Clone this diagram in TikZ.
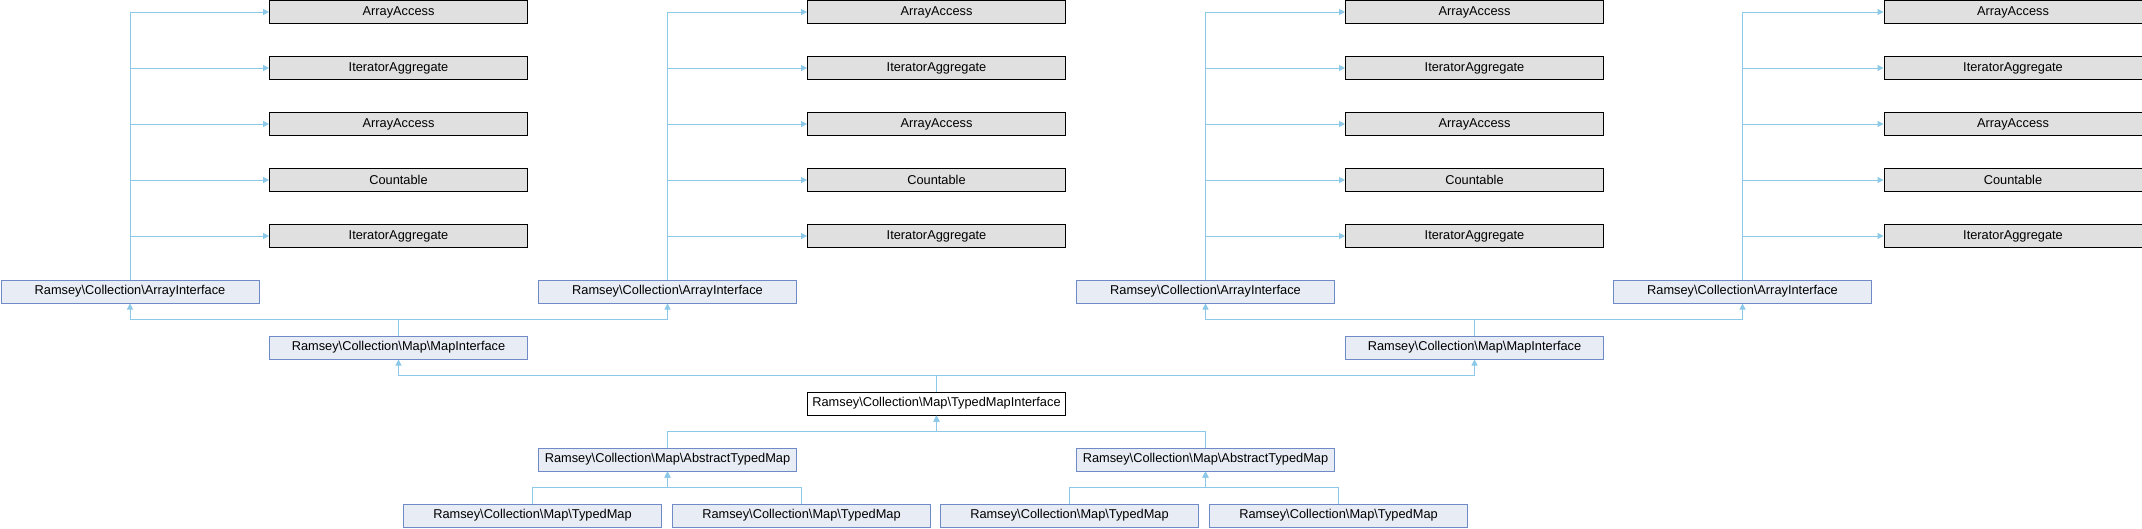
\documentclass[tikz,border=0pt]{standalone}
\usepackage{fontspec}
\setmainfont{Liberation Sans}
\usetikzlibrary{arrows.meta}
\definecolor{edgeblue}{RGB}{140,200,232}
\definecolor{clsfill}{RGB}{232,236,244}
\definecolor{clsdraw}{RGB}{112,138,200}
\definecolor{extfill}{RGB}{224,224,224}
\begin{document}
\begin{tikzpicture}[x=1pt,y=-1pt,
  font=\fontsize{12.8}{14}\selectfont,
  basebox/.style={minimum width=258pt, minimum height=23pt, inner sep=0pt, line width=1pt, anchor=west},
  ext/.style={basebox, draw=black, fill=extfill},
  cls/.style={basebox, draw=clsdraw, fill=clsfill},
  cur/.style={basebox, draw=black, fill=white},
  edge/.style={draw=edgeblue, line width=1pt, -{Triangle[length=6pt,width=6pt]}}]
\useasboundingbox (0,0) rectangle (2142,528);
\fill[white] (0,0) rectangle (2142,528);
% external interfaces
\foreach \c/\n in {269/a,807/b,1345/c,1883.5/d} {
  \node[ext] (\n1) at (\c,12) {ArrayAccess};
  \node[ext] (\n2) at (\c,68) {IteratorAggregate};
  \node[ext] (\n3) at (\c,124) {ArrayAccess};
  \node[ext] (\n4) at (\c,180) {Countable};
  \node[ext] (\n5) at (\c,236) {IteratorAggregate};
}
% array interfaces
\node[cls] (aia) at (0.5,291.5) {Ramsey\textbackslash Collection\textbackslash ArrayInterface};
\node[cls] (aib) at (538,291.5) {Ramsey\textbackslash Collection\textbackslash ArrayInterface};
\node[cls] (aic) at (1076,291.5) {Ramsey\textbackslash Collection\textbackslash ArrayInterface};
\node[cls] (aid) at (1613,291.5) {Ramsey\textbackslash Collection\textbackslash ArrayInterface};
\foreach \n in {a,b,c,d} {
  \foreach \k in {1,...,5} {
    \draw[edge] (ai\n.north) |- (\n\k.west);
  }
}
% map interfaces
\node[cls] (mi1) at (269,347.5) {Ramsey\textbackslash Collection\textbackslash Map\textbackslash MapInterface};
\node[cls] (mi2) at (1345,347.5) {Ramsey\textbackslash Collection\textbackslash Map\textbackslash MapInterface};
\node[cur] (tmi) at (807,403.5) {Ramsey\textbackslash Collection\textbackslash Map\textbackslash TypedMapInterface};
\node[cls] (at1) at (538,459.5) {Ramsey\textbackslash Collection\textbackslash Map\textbackslash AbstractTypedMap};
\node[cls] (at2) at (1076,459.5) {Ramsey\textbackslash Collection\textbackslash Map\textbackslash AbstractTypedMap};
\node[cls] (tm1) at (403,515.5) {Ramsey\textbackslash Collection\textbackslash Map\textbackslash TypedMap};
\node[cls] (tm2) at (672,515.5) {Ramsey\textbackslash Collection\textbackslash Map\textbackslash TypedMap};
\node[cls] (tm3) at (940,515.5) {Ramsey\textbackslash Collection\textbackslash Map\textbackslash TypedMap};
\node[cls] (tm4) at (1209,515.5) {Ramsey\textbackslash Collection\textbackslash Map\textbackslash TypedMap};
% rails
\coordinate (r1) at (0,319.5);
\coordinate (r2) at (0,375.5);
\coordinate (r3) at (0,431.5);
\coordinate (r4) at (0,487.5);
\draw[edge] (mi1.north) -- (mi1.north |- r1) -| (aia.south);
\draw[edge] (mi1.north) -- (mi1.north |- r1) -| (aib.south);
\draw[edge] (mi2.north) -- (mi2.north |- r1) -| (aic.south);
\draw[edge] (mi2.north) -- (mi2.north |- r1) -| (aid.south);
\draw[edge] (tmi.north) -- (tmi.north |- r2) -| (mi1.south);
\draw[edge] (tmi.north) -- (tmi.north |- r2) -| (mi2.south);
\draw[edge] (at1.north) -- (at1.north |- r3) -| (tmi.south);
\draw[edge] (at2.north) -- (at2.north |- r3) -| (tmi.south);
\draw[edge] (tm1.north) -- (tm1.north |- r4) -| (at1.south);
\draw[edge] (tm2.north) -- (tm2.north |- r4) -| (at1.south);
\draw[edge] (tm3.north) -- (tm3.north |- r4) -| (at2.south);
\draw[edge] (tm4.north) -- (tm4.north |- r4) -| (at2.south);
\end{tikzpicture}
\end{document}
